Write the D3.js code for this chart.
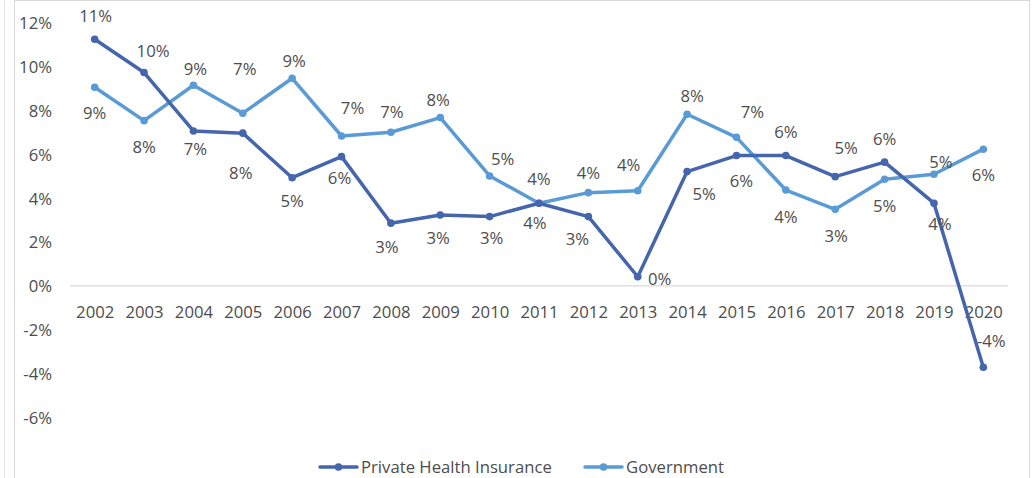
<!DOCTYPE html>
<html>
<head>
<meta charset="utf-8">
<script src="https://cdn.jsdelivr.net/npm/d3@7"></script>
<style>
  html, body { margin: 0; padding: 0; background: #fff; }
  svg { display: block; }
  text { font-family: "Open Sans", "Noto Sans", sans-serif; fill: #4d4d4d; }
</style>
</head>
<body>
<svg id="chart" width="1032" height="478"></svg>
<script>
// Annual growth rates of health spending, by payer
const years = ["2002","2003","2004","2005","2006","2007","2008","2009","2010","2011",
               "2012","2013","2014","2015","2016","2017","2018","2019","2020"];
const privateInsurance = [0.1124, 0.0972, 0.0706, 0.0696, 0.0493, 0.0589, 0.0286, 0.0323, 0.0316, 0.0377,
                          0.0316, 0.0042, 0.0521, 0.0594, 0.0594, 0.0498, 0.0564, 0.0377, -0.0370];
const government = [0.0905, 0.0753, 0.0914, 0.0787, 0.0946, 0.0683, 0.0700, 0.0767, 0.0501, 0.0377,
                    0.0425, 0.0434, 0.0782, 0.0677, 0.0437, 0.0349, 0.0486, 0.0509, 0.0623];
const yTicks = [-0.06, -0.04, -0.02, 0, 0.02, 0.04, 0.06, 0.08, 0.10, 0.12];
const seriesNames = ["Private Health Insurance", "Government"];

// Hand-placed data label nudges (label centre relative to its point, px)
const privateLabelNudge = [[1,-23],[9,-21],[2,18],[2,-64],[0,23],[-2,22],[-4,24],[-2,23],[2,22],[-4,20],
                           [-11,23],[22,2],[17,23],[5,26],[0,-23],[11,-28],[0,-23],[6,21],[8,-26]];
const governmentLabelNudge = [[0,26],[0,27],[2,-16],[-2,60],[2,-17],[11,-28],[1,-20],[-2,-17],[13,-17],[0,-24],
                              [0,-20],[-9,-26],[5,-18],[16,-25],[0,27],[1,27],[0,27],[7,-12],[0,26]];

const colors = { priv: "#4565ad", gov: "#5b9bd5" };
const textColor = "#4d4d4d";
const fontSize = 16.7;

const svg = d3.select("#chart");

// Outer frame lines
svg.append("line").attr("x1", 4.5).attr("x2", 4.5).attr("y1", 0).attr("y2", 478)
   .attr("stroke", "#e3e3e3").attr("stroke-width", 1);
svg.append("rect").attr("x", 14.5).attr("y", 0.5).attr("width", 1015).attr("height", 490)
   .attr("fill", "none").attr("stroke", "#d9d9d9").attr("stroke-width", 1);

const x = d3.scalePoint().domain(years).range([70, 1008]).padding(0.5);
const y = d3.scaleLinear().domain([-0.06, 0.12]).range([417.7, 22.5]);

// Percent format with a plain hyphen for negatives
const locale = d3.formatLocale({ decimal: ".", thousands: ",", grouping: [3], currency: ["$", ""], minus: "-" });
const pct = locale.format(".0%");

// Y axis labels
const yAxis = svg.append("g").attr("transform", "translate(52,0)")
  .call(d3.axisLeft(y).tickValues(yTicks).tickSize(0).tickPadding(0).tickFormat(pct));
yAxis.select(".domain").remove();
yAxis.selectAll("text").attr("font-size", fontSize).attr("font-family", null)
  .attr("dy", "0.35em").attr("fill", textColor);

// Zero line
svg.append("line").attr("x1", 70).attr("x2", 1008)
  .attr("y1", y(0)).attr("y2", y(0)).attr("stroke", "#d9d9d9").attr("stroke-width", 1.3);

// X axis labels
const xAxis = svg.append("g").attr("transform", `translate(0,${y(0)})`)
  .call(d3.axisBottom(x).tickSize(0).tickPadding(0));
xAxis.select(".domain").remove();
xAxis.selectAll("text").attr("font-size", fontSize).attr("font-family", null)
  .attr("y", 26).attr("dy", "0.35em").attr("fill", textColor);

const series = [
  { key: "priv", values: privateInsurance, nudge: privateLabelNudge },
  { key: "gov", values: government, nudge: governmentLabelNudge }
];

const line = d3.line().x((d, i) => x(years[i])).y(d => y(d));

// Government drawn first so the private line sits on top
[series[1], series[0]].forEach(s => {
  const g = svg.append("g");
  g.append("path").datum(s.values).attr("d", line)
    .attr("fill", "none").attr("stroke", colors[s.key]).attr("stroke-width", 3.5)
    .attr("stroke-linejoin", "round").attr("stroke-linecap", "round");
  g.selectAll("circle").data(s.values).join("circle")
    .attr("cx", (d, i) => x(years[i])).attr("cy", d => y(d)).attr("r", 3.8)
    .attr("fill", colors[s.key]);
});

// Data labels
series.forEach(s => {
  svg.append("g").selectAll("text").data(s.values).join("text")
    .attr("x", (d, i) => x(years[i]) + s.nudge[i][0])
    .attr("y", (d, i) => y(d) + s.nudge[i][1])
    .attr("dy", "0.35em").attr("text-anchor", "middle")
    .attr("font-size", fontSize).attr("fill", textColor)
    .text(d => pct(d));
});

// Legend
const legend = [
  { name: seriesNames[0], key: "priv", x: 320 },
  { name: seriesNames[1], key: "gov", x: 585 }
];
const ly = 467;
legend.forEach(l => {
  const g = svg.append("g").attr("transform", `translate(${l.x},${ly})`);
  g.append("line").attr("x1", 0).attr("x2", 37).attr("y1", 0).attr("y2", 0)
    .attr("stroke", colors[l.key]).attr("stroke-width", 3.5).attr("stroke-linecap", "round");
  g.append("circle").attr("cx", 18.5).attr("cy", 0).attr("r", 3.8).attr("fill", colors[l.key]);
  g.append("text").attr("x", 41).attr("y", 0).attr("dy", "0.35em")
    .attr("font-size", fontSize).attr("fill", textColor).text(l.name);
});
</script>
</body>
</html>
